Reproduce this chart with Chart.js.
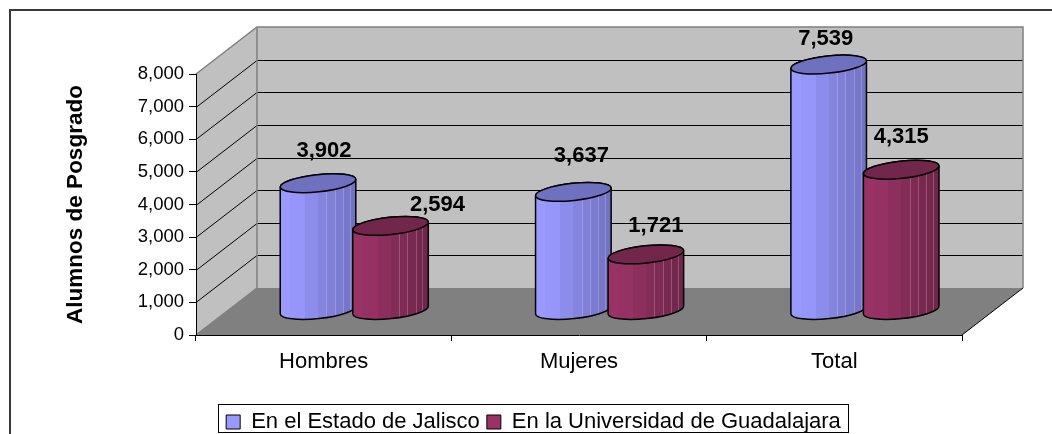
<!DOCTYPE html>
<html><head><meta charset="utf-8">
<style>html,body{margin:0;padding:0;background:#fff;overflow:hidden}canvas{display:block}</style>
<script src="https://cdn.jsdelivr.net/npm/chart.js@4"></script>
</head><body><canvas id="c" width="1052" height="434"></canvas>
<script>
const categories = ["Hombres", "Mujeres", "Total"];
const jalisco = [3902, 3637, 7539];
const udg = [2594, 1721, 4315];
const seriesNames = ["En el Estado de Jalisco", "En la Universidad de Guadalajara"];
const axisTitle = "Alumnos de Posgrado";
const yMax = 8000, yStep = 1000;

const FONT = '"Liberation Sans", Arial, sans-serif';
const DEPTH = {x: 61, y: -47};
const BAR_SHIFT = {x: 30.6, y: -24.5};
const FACETS = [0, .13, .33, .5, .61, .72, .83, .92, 1];
const LABEL_NUDGE = [
  [[6, -32], [8, -36], [-3, -26]],
  [[47, -21], [10, -28], [0, -33]]
];
const SKINS = [
  {light: [153, 153, 255], dark: [110, 110, 190], top: "#7070C0"},
  {light: [153, 51, 102], dark: [108, 36, 72], top: "#72264C"}
];
const mix = (a, b, t) => `rgb(${a.map((v, i) => Math.round(v + (b[i] - v) * t)).join(",")})`;

const drawCylinders = (chart, index) => {
  const {ctx} = chart, skin = SKINS[index];
  chart.getDatasetMeta(index).data.forEach(el => {
    const a = el.width / 2, b = 8.6, rot = -6 * Math.PI / 180;
    const cx = el.x + BAR_SHIFT.x, ty = el.y + BAR_SHIFT.y, by = el.base + BAR_SHIFT.y;
    const g = ctx.createLinearGradient(cx - a, 0, cx + a, 0);
    for (let i = 0; i < FACETS.length - 1; i++) {
      const col = mix(skin.light, skin.dark, Math.max(0, FACETS[i] - .05) / .95);
      g.addColorStop(FACETS[i], col); g.addColorStop(FACETS[i + 1], col);
    }
    const body = () => {
      ctx.beginPath();
      ctx.ellipse(cx, by, a, b, rot, 0, Math.PI, false);
      ctx.ellipse(cx, ty, a, b, rot, Math.PI, 2 * Math.PI, false);
      ctx.closePath();
    };
    ctx.save();
    body(); ctx.fillStyle = g; ctx.fill();
    ctx.save(); body(); ctx.clip();
    ctx.strokeStyle = "rgba(255,255,255,.22)"; ctx.lineWidth = 1;
    FACETS.slice(4, 8).forEach(f => {
      const x = Math.round(cx - a + f * 2 * a) + .5;
      ctx.beginPath(); ctx.moveTo(x, ty - 20); ctx.lineTo(x, by + 20); ctx.stroke();
    });
    ctx.restore();
    ctx.lineJoin = "round"; ctx.strokeStyle = "#000"; ctx.lineWidth = 1.5;
    body(); ctx.stroke();
    ctx.beginPath(); ctx.ellipse(cx, ty, a, b, rot, 0, 2 * Math.PI);
    ctx.fillStyle = skin.top; ctx.fill(); ctx.stroke();
    ctx.restore();
  });
};

const scene = {
  id: "scene",
  beforeDraw(chart) {
    const {ctx, chartArea: a, scales: {y}} = chart;
    ctx.save();
    ctx.fillStyle = "#fff"; ctx.fillRect(0, 0, 1052, 434);
    ctx.fillStyle = "#3a3a3a";
    ctx.fillRect(9, 9, 1043, 2); ctx.fillRect(9, 9, 2, 425);
    const dx = DEPTH.x, dy = DEPTH.y, L = a.left, R = a.right, T = a.top, B = a.bottom;
    const poly = (pts, fill) => {
      ctx.beginPath(); pts.forEach((p, i) => i ? ctx.lineTo(p[0], p[1]) : ctx.moveTo(p[0], p[1])); ctx.closePath();
      ctx.fillStyle = fill; ctx.fill();
    };
    poly([[L, T], [L + dx, T + dy], [L + dx, B + dy], [L, B]], "#C0C0C0");
    poly([[L + dx, T + dy], [R + dx, T + dy], [R + dx, B + dy], [L + dx, B + dy]], "#C0C0C0");
    poly([[L, B], [L + dx, B + dy], [R + dx, B + dy], [R, B]], "#808080");
    ctx.strokeStyle = "#000"; ctx.lineWidth = 1;
    for (let v = yStep; v < yMax; v += yStep) {
      const p = Math.round(y.getPixelForValue(v)) + .5;
      ctx.beginPath(); ctx.moveTo(L, p); ctx.lineTo(L + dx, p + dy); ctx.lineTo(R + dx, p + dy); ctx.stroke();
    }
    ctx.strokeStyle = "#808080"; ctx.lineWidth = 1.5;
    ctx.beginPath(); ctx.moveTo(L, T); ctx.lineTo(L + dx, T + dy); ctx.lineTo(R + dx, T + dy); ctx.lineTo(R + dx, B + dy); ctx.stroke();
    ctx.beginPath(); ctx.moveTo(L + dx, T + dy); ctx.lineTo(L + dx, B + dy); ctx.lineTo(L, B); ctx.stroke();
    ctx.strokeStyle = "#000"; ctx.lineWidth = 1;
    ctx.beginPath(); ctx.moveTo(R, B); ctx.lineTo(R + dx, B + dy); ctx.stroke();
    const lg = chart.legend;
    ctx.fillStyle = "#fff"; ctx.fillRect(lg.left, lg.top, lg.right - lg.left, lg.bottom - lg.top);
    ctx.strokeStyle = "#000"; ctx.lineWidth = 1;
    ctx.strokeRect(lg.left + .5, lg.top + .5, lg.right - lg.left - 1, lg.bottom - lg.top - 1);
    ctx.restore();
  },
  afterLayout(chart) {
    const lg = chart.legend;
    lg.left = 218; lg.right = 849; lg.top = 404; lg.bottom = 433;
  },
  beforeDatasetsDraw(chart) {
    chart.data.datasets.forEach((ds, d) => drawCylinders(chart, d));
  },
  beforeDatasetDraw() {
    return false;
  },
  afterDatasetsDraw(chart) {
    const {ctx} = chart;
    ctx.save();
    ctx.font = `bold 22px ${FONT}`; ctx.fillStyle = "#000";
    ctx.textAlign = "center"; ctx.textBaseline = "middle";
    chart.data.datasets.forEach((ds, d) => {
      chart.getDatasetMeta(d).data.forEach((el, i) => {
        const n = LABEL_NUDGE[d][i];
        ctx.fillText(ds.data[i].toLocaleString("en-US"), el.x + BAR_SHIFT.x + n[0], el.y + BAR_SHIFT.y + n[1]);
      });
    });
    ctx.restore();
  }
};

new Chart(document.getElementById("c"), {
  type: "bar",
  data: {
    labels: categories,
    datasets: [
      {label: seriesNames[0], data: jalisco, backgroundColor: "#9999FF", borderColor: "#000", borderWidth: 1},
      {label: seriesNames[1], data: udg, backgroundColor: "#993366", borderColor: "#000", borderWidth: 1}
    ]
  },
  options: {
    responsive: false, animation: false,
    layout: {padding: {top: 74, right: 90, left: 0, bottom: 0}},
    datasets: {bar: {categoryPercentage: 0.568, barPercentage: 1.048}},
    plugins: {
      tooltip: {enabled: false},
      legend: {
        position: "bottom",
        labels: {font: {family: FONT, size: 22}, color: "#000", boxWidth: 14, boxHeight: 14, padding: 7}
      }
    },
    scales: {
      x: {
        afterFit: s => { s.height = 99 - (s.chart.legend ? s.chart.legend.height : 0); },
        grid: {drawOnChartArea: false, color: "#000", tickLength: 6, offset: true},
        border: {color: "#000"},
        ticks: {color: "#000", font: {family: FONT, size: 22}, maxRotation: 0, padding: 8}
      },
      y: {
        min: 0, max: yMax,
        afterFit: s => { s.width = 196; },
        grid: {drawOnChartArea: false, color: "#000", tickLength: 7},
        border: {color: "#000"},
        title: {display: true, text: axisTitle, color: "#000", font: {family: FONT, size: 22.5, weight: "bold"}, padding: {top: 62, bottom: 0}},
        ticks: {stepSize: yStep, color: "#000", font: {family: FONT, size: 18.5}, padding: 5,
          callback: v => Number(v).toLocaleString("en-US")}
      }
    }
  },
  plugins: [scene]
});
</script></body></html>
